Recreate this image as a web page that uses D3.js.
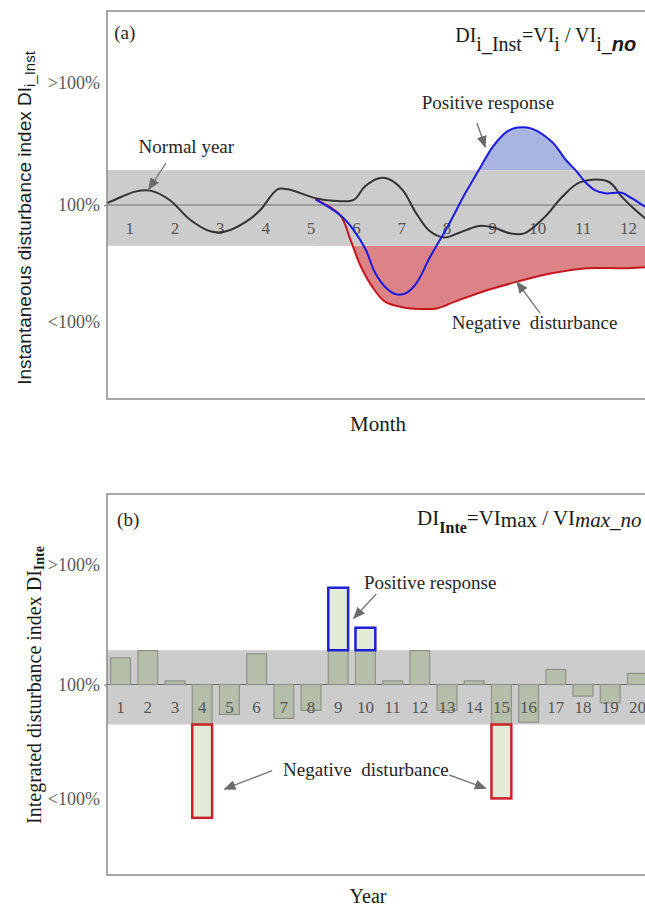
<!DOCTYPE html>
<html><head><meta charset="utf-8">
<script src="https://cdn.jsdelivr.net/npm/d3@7"></script>
<style>body{margin:0;background:#fff}svg{display:block}</style>
</head><body><svg id="c" width="645" height="909"></svg>
<script>
// ---------- data ----------
const months = [1,2,3,4,5,6,7,8,9,10,11,12];
// [month, index %]
const normalYear = [[0.5,101],[0.8,104],[1.12,106.9],[1.46,107.4],[1.88,102.6],[2.34,92.3],[2.8,86.3],[3.11,86.3],[3.57,91.4],[3.88,97.4],[4.26,108.1],[4.49,108.1],[5.1,103.5],[5.49,102.2],[5.94,102.6],[6.18,109.4],[6.48,113.7],[6.71,113.4],[7.02,107.7],[7.32,95.7],[7.63,86.3],[7.94,83.3],[8.24,85.4],[8.7,89.2],[9.01,88.5],[9.39,85.4],[9.7,85.4],[10.16,94.0],[10.54,104.3],[10.95,111.9],[11.56,112.0],[11.85,104.3],[12.11,98.3],[12.37,93.1],[12.6,89]];
const responseCurve = [[5.1,102.9],[5.64,94.8],[5.94,87.1],[6.21,76.8],[6.4,65.6],[6.63,57.9],[6.86,54.1],[7.09,54.5],[7.32,59.6],[7.63,73.4],[8.01,88.8],[8.4,106.0],[8.7,118.0],[9.01,130.1],[9.32,137.8],[9.55,139.9],[9.85,139.5],[10.31,132.6],[10.62,123.2],[10.85,117.5],[11.04,112.0],[11.26,107.7],[11.49,106.0],[11.85,106.3],[12.07,103.5],[12.37,99.1],[12.6,96]];
const disturbanceCurve = [[5.1,102.9],[5.64,94.8],[5.87,82.0],[6.1,68.2],[6.4,56.2],[6.63,50.2],[7.02,47.3],[7.4,46.4],[7.79,46.8],[8.17,50.2],[8.78,55.3],[9.55,60.5],[10.31,64.8],[11.08,67.4],[11.85,67.4],[12.37,67.9],[12.6,68]];
const years = [1,2,3,4,5,6,7,8,9,10,11,12,13,14,15,16,17,18,19,20];
const yearValues = [114.0,117.8,101.9,30.0,84.3,116.1,82.2,86.4,150.8,129.8,101.9,117.8,86.4,101.9,40.2,80.2,107.9,93.9,90.4,105.8];
const normalBand = [79,118];
const tickValues = [40,100,163];
const tickLabels = ["<100%","100%",">100%"];

// ---------- setup ----------
const SERIF = "'Liberation Serif','Times New Roman',serif";
const SANS = "'Liberation Sans',Arial,sans-serif";
const svg = d3.select("#c");
const defs = svg.append("defs");
defs.append("marker").attr("id","arr").attr("viewBox","0 0 12 10").attr("refX",11).attr("refY",5)
  .attr("markerWidth",12).attr("markerHeight",10).attr("markerUnits","userSpaceOnUse").attr("orient","auto")
  .append("path").attr("d","M0,0L12,5L0,10Z").attr("fill","#6b6b6b");

function arrow(g, x1, y1, x2, y2){
  g.append("line").attr("x1",x1).attr("y1",y1).attr("x2",x2).attr("y2",y2)
    .attr("stroke","#7a7a7a").attr("stroke-width",1.4).attr("marker-end","url(#arr)");
}
function label(g, x, y, txt, anchor){
  return g.append("text").attr("x",x).attr("y",y).attr("text-anchor",anchor||"middle")
    .attr("dominant-baseline","central").attr("font-family",SERIF).attr("font-size",19)
    .attr("fill","#262626").style("white-space","pre").text(txt);
}

// ================= TOP PANEL =================
const xM = d3.scaleLinear().domain([0.5,13.5]).range([107,696.5]);
const yT = d3.scaleLinear().domain([0,200]).range([399,11]);
const gT = svg.append("g");

gT.append("rect").attr("x",xM(0.5)).attr("width",xM(13.5)-xM(0.5))
  .attr("y",yT(normalBand[1])).attr("height",yT(normalBand[0])-yT(normalBand[1])).attr("fill","#cdcccd");

defs.append("clipPath").attr("id","clipA").append("rect")
  .attr("x",xM(0.5)).attr("width",xM(13.5)-xM(0.5)).attr("y",yT(200)).attr("height",yT(normalBand[1])-yT(200));
defs.append("clipPath").attr("id","clipB").append("rect")
  .attr("x",xM(0.5)).attr("width",xM(13.5)-xM(0.5)).attr("y",yT(normalBand[0])).attr("height",yT(0)-yT(normalBand[0]));

const curve = d3.curveCatmullRom.alpha(0.5);
const line = d3.line().x(d=>xM(d[0])).y(d=>yT(d[1])).curve(curve);
gT.append("path").datum(responseCurve)
  .attr("d", d3.area().x(d=>xM(d[0])).y0(yT(normalBand[1])).y1(d=>yT(d[1])).curve(curve))
  .attr("fill","#a9b5e0").attr("clip-path","url(#clipA)");
gT.append("path").datum(disturbanceCurve)
  .attr("d", d3.area().x(d=>xM(d[0])).y0(yT(normalBand[0])).y1(d=>yT(d[1])).curve(curve))
  .attr("fill","#dc8387").attr("clip-path","url(#clipB)");

gT.append("line").attr("x1",xM(0.5)).attr("x2",xM(13.5)).attr("y1",yT(100)).attr("y2",yT(100))
  .attr("stroke","#707070").attr("stroke-width",1);

gT.selectAll("text.m").data(months).join("text").attr("class","m")
  .attr("x",d=>xM(d)).attr("y",yT(100)+23).attr("text-anchor","middle").attr("dominant-baseline","central")
  .attr("font-family",SERIF).attr("font-size",17).attr("fill","#555").text(d=>d);

gT.append("path").datum(normalYear).attr("d",line).attr("fill","none").attr("stroke","#333").attr("stroke-width",2);
gT.append("path").datum(disturbanceCurve).attr("d",line).attr("fill","none").attr("stroke","#c4161c").attr("stroke-width",2);
gT.append("path").datum(responseCurve).attr("d",line).attr("fill","none").attr("stroke","#1a1ae0").attr("stroke-width",2);

gT.append("rect").attr("x",xM(0.5)).attr("y",yT(200)).attr("width",xM(13.5)-xM(0.5)).attr("height",yT(0)-yT(200))
  .attr("fill","none").attr("stroke","#8a8a8a").attr("stroke-width",1.5);

function yAxis(g, y, x){
  const ax = g.append("g").attr("transform",`translate(${x},0)`)
    .call(d3.axisLeft(y).tickValues(tickValues).tickFormat((d,i)=>tickLabels[i]).tickSize(3).tickPadding(4));
  ax.select(".domain").remove();
  ax.selectAll(".tick line").attr("stroke","#777").attr("opacity",(d)=>d===100?1:0);
  ax.selectAll(".tick text").attr("font-family",SERIF).attr("font-size",18).attr("fill","#595959");
}
yAxis(gT, yT, 107);

// annotations top
label(gT, xM(0.66), yT(188.7), "(a)", "start");
const fT = gT.append("text").attr("x",xM(8.18)).attr("y",yT(184)).attr("font-family",SERIF).attr("font-size",20).attr("fill","#1a1a1a").style("white-space","pre");
fT.append("tspan").text("DI");
fT.append("tspan").attr("dy",9).text("i_Inst");
fT.append("tspan").attr("dy",-9).text("=VI");
fT.append("tspan").attr("dy",9).text("i");
fT.append("tspan").attr("dy",-9).text(" / VI");
fT.append("tspan").attr("dy",9).text("i_");
fT.append("tspan").attr("font-family",SANS).attr("font-style","italic").attr("font-weight","bold").text("no");

label(gT, xM(8.9), yT(152.6), "Positive response");
arrow(gT, xM(8.66), yT(142.3), xM(8.84), yT(129.9));
label(gT, xM(2.25), yT(129.9), "Normal year");
arrow(gT, xM(1.80), yT(121.6), xM(1.42), yT(108.2));
label(gT, xM(9.93), yT(39.2), "Negative  disturbance");
arrow(gT, xM(10.05), yT(44.3), xM(9.54), yT(60.3));

const tT = svg.append("text").attr("transform","translate(24,218) rotate(-90)").attr("text-anchor","middle")
  .attr("dominant-baseline","central").attr("font-family",SANS).attr("font-size",19).attr("fill","#1a1a1a");
tT.append("tspan").text("Instantaneous disturbance index DI");
tT.append("tspan").attr("dy",5).attr("font-size",15).text("i_Inst");

svg.append("text").attr("x",378).attr("y",424).attr("text-anchor","middle").attr("dominant-baseline","central")
  .attr("font-family",SERIF).attr("font-size",21).attr("fill","#1a1a1a").text("Month");

// ================= BOTTOM PANEL =================
const xB = d3.scaleBand().domain(years).range([107,651]).paddingInner(0.27).paddingOuter(0.135);
const xBl = d3.scaleLinear().domain([0.5,20.5]).range([107,651]);
const yB = d3.scaleLinear().domain([0,200]).range([875,494]);
const gB = svg.append("g");

gB.append("rect").attr("x",107).attr("width",544).attr("y",yB(normalBand[1]))
  .attr("height",yB(normalBand[0])-yB(normalBand[1])).attr("fill","#cdcccd");
gB.append("line").attr("x1",107).attr("x2",651).attr("y1",yB(100)).attr("y2",yB(100)).attr("stroke","#707070").attr("stroke-width",1);

const bars = years.map((yr,i)=>({yr, v:yearValues[i]}));
const clampBand = v => Math.min(Math.max(v, normalBand[0]), normalBand[1]);
gB.selectAll("rect.in").data(bars).join("rect").attr("class","in")
  .attr("x",d=>xB(d.yr)).attr("width",xB.bandwidth())
  .attr("y",d=>yB(Math.max(100, clampBand(d.v))))
  .attr("height",d=>Math.abs(yB(clampBand(d.v))-yB(100)))
  .attr("fill","#b5bea8").attr("stroke","#8f928b").attr("stroke-width",1.2);
const outer = bars.filter(d=>d.v>normalBand[1] || d.v<normalBand[0]);
gB.selectAll("rect.out").data(outer).join("rect").attr("class","out")
  .attr("x",d=>xB(d.yr)).attr("width",xB.bandwidth())
  .attr("y",d=>d.v>normalBand[1]? yB(d.v) : yB(normalBand[0]))
  .attr("height",d=>d.v>normalBand[1]? yB(normalBand[1])-yB(d.v) : yB(d.v)-yB(normalBand[0]))
  .attr("fill","#e2ecd6").attr("stroke",d=>d.v>normalBand[1]?"#1f1fd6":"#c8232a").attr("stroke-width",2.5);

gB.selectAll("text.y").data(years).join("text").attr("class","y")
  .attr("x",d=>xB(d)+xB.bandwidth()/2).attr("y",yB(100)+22.5).attr("text-anchor","middle").attr("dominant-baseline","central")
  .attr("font-family",SERIF).attr("font-size",17).attr("fill","#555").text(d=>d);

gB.append("rect").attr("x",107).attr("y",yB(200)).attr("width",544).attr("height",yB(0)-yB(200))
  .attr("fill","none").attr("stroke","#8a8a8a").attr("stroke-width",1.5);
yAxis(gB, yB, 107);

label(gB, xBl(0.87), yB(186.4), "(b)", "start");
const fB = gB.append("text").attr("x",xBl(11.9)).attr("y",yB(183.7)).attr("font-family",SERIF).attr("font-size",21).attr("fill","#1a1a1a").style("white-space","pre");
fB.append("tspan").text("DI");
fB.append("tspan").attr("dy",8).attr("font-size",16).attr("font-weight","bold").text("Inte");
fB.append("tspan").attr("dy",-8).text("=VI");
fB.append("tspan").attr("dy",2).text("max");
fB.append("tspan").attr("dy",-2).text(" / VI");
fB.append("tspan").attr("dy",2).attr("font-style","italic").text("max_no");

label(gB, xBl(12.38), yB(153.3), "Positive response");
arrow(gB, xBl(10.4), yB(147.5), xBl(9.57), yB(134.8));
label(gB, xBl(10.02), yB(55.6), "Negative  disturbance");
arrow(gB, xBl(6.57), yB(54.8), xBl(4.82), yB(45.1));
arrow(gB, xBl(13.08), yB(52.5), xBl(14.43), yB(45.5));

const tB = svg.append("text").attr("transform","translate(34,685) rotate(-90)").attr("text-anchor","middle")
  .attr("dominant-baseline","central").attr("font-family",SERIF).attr("font-size",20).attr("fill","#1a1a1a");
tB.append("tspan").text("Integrated disturbance index DI");
tB.append("tspan").attr("dy",5).attr("font-size",14).attr("font-weight","bold").text("Inte");

svg.append("text").attr("x",368).attr("y",896).attr("text-anchor","middle").attr("dominant-baseline","central")
  .attr("font-family",SERIF).attr("font-size",20).attr("fill","#1a1a1a").text("Year");
</script></body></html>
